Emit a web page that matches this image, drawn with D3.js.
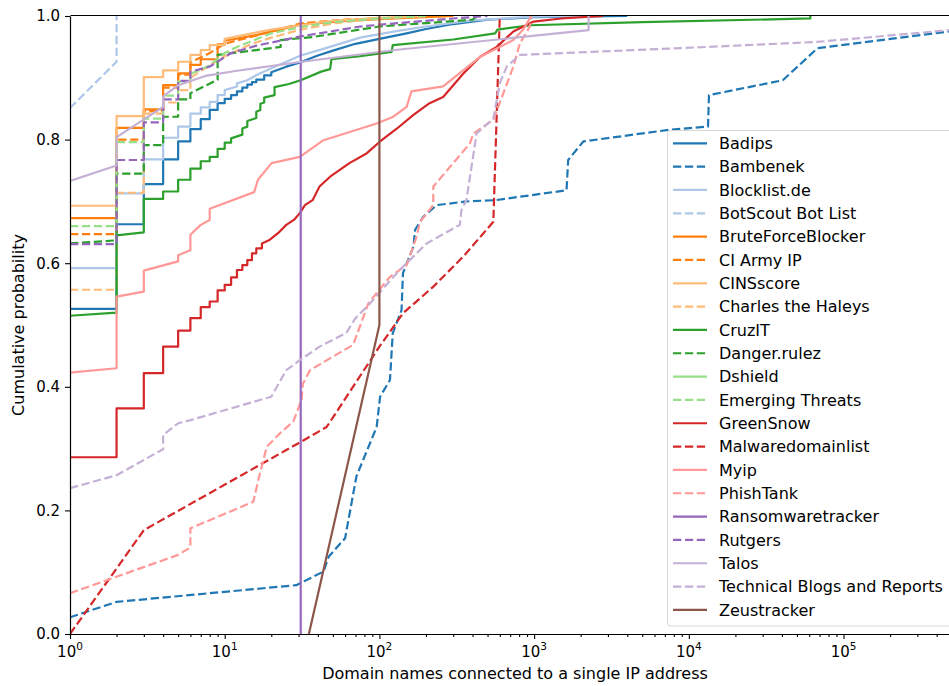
<!DOCTYPE html>
<html>
<head>
<meta charset="utf-8">
<script src="https://cdn.jsdelivr.net/npm/d3@7"></script>
<style>
  body { margin: 0; background: #fff; }
  svg { display: block; }
  text { font-family: "DejaVu Sans", sans-serif; fill: #000; }
</style>
</head>
<body>
<svg id="chart" width="949" height="686"></svg>
<script>
// Feed names, in plotting / legend order
const feedNames = ["Badips", "Bambenek", "Blocklist.de", "BotScout Bot List", "BruteForceBlocker",
  "CI Army IP", "CINSscore", "Charles the Haleys", "CruzIT", "Danger.rulez", "Dshield",
  "Emerging Threats", "GreenSnow", "Malwaredomainlist", "Myip", "PhishTank",
  "Ransomwaretracker", "Rutgers", "Talos", "Technical Blogs and Reports", "Zeustracker"];

const feedColors = ["#1f77b4", "#1f77b4", "#aec7e8", "#aec7e8", "#ff7f0e", "#ff7f0e", "#ffbb78",
  "#ffbb78", "#2ca02c", "#2ca02c", "#98df8a", "#98df8a", "#d62728", "#d62728", "#ff9896",
  "#ff9896", "#9467bd", "#9467bd", "#c5b0d5", "#c5b0d5", "#8c564b"];

const feedDashed = [false, true, false, true, false, true, false, true, false, true, false,
  true, false, true, false, true, false, true, false, true, false];

// CDF vertices per feed: [domain names per IP, cumulative probability]
const badips = [[1,.526],[2,.526],[2,.663],[3,.663],[3,.728],[4,.728],[4,.768],[5,.768],[5,.797],[6,.797],[6,.817],[7,.817],[7,.833],[8,.833],[8,.848],[9,.848],[9,.859],[10,.859],[10,.866],[11,.866],[11,.872],[12,.872],[12,.878],[13,.878],[13,.884],[14,.884],[14,.889],[15,.889],[15,.893],[16,.893],[16,.897],[18,.897],[18,.904],[20,.904],[20,.909],[25,.918],[30,.924],[40,.936],[50,.944],[70,.955],[100,.963],[150,.972],[200,.979],[300,.987],[500,.994],[1000,.998],[4000,1]];
const bambenek = [[1,.027],[2,.052],[29,.079],[43.5,.101],[47,.125],[60,.155],[71,.255],[96,.335],[101,.384],[117,.411],[122,.487],[139,.524],[142,.584],[166,.627],[170,.654],[192,.675],[235,.694],[365,.700],[561,.702],[1620,.718],[1660,.767],[2080,.797],[7500,.816],[13300,.821],[13500,.872],[40500,.896],[68000,.948],[480000,.975]];
const blocklistDe = [[1,.592],[2,.592],[2,.713],[3,.713],[3,.768],[4,.768],[4,.803],[5,.803],[5,.821],[6,.821],[6,.842],[7,.842],[7,.852],[8,.852],[8,.861],[9,.861],[9,.872],[10,.872],[10,.880],[12,.886],[12,.891],[14,.896],[16,.904],[18,.910],[22,.920],[31,.936],[45,.948],[75,.965],[126,.975],[200,.983],[400,.993],[1000,.999],[2000,1]];
const botScout = [[1,.851],[2,.926],[2,1]];
const bruteForce = [[1,.673],[2,.673],[2,.819],[3,.819],[3,.849],[4,.849],[4,.888],[5,.888],[5,.907],[6,.907],[6,.921],[7,.921],[7,.930],[9,.930],[9,.954],[10,.954],[10,.960],[16,.969],[31,.986],[60,.992],[126,.996],[300,1]];
const ciArmy = [[1,.647],[2,.647],[2,.800],[3,.800],[3,.846],[4,.846],[4,.884],[5,.884],[5,.905],[6,.905],[6,.925],[8,.94],[10,.955],[20,.975],[31,.988],[60,.994],[150,.998],[300,1]];
const cinsScore = [[1,.693],[2,.693],[2,.838],[3,.838],[3,.901],[4,.901],[4,.912],[5,.912],[5,.926],[6,.926],[6,.937],[7,.937],[7,.945],[8,.945],[8,.953],[10,.953],[10,.963],[15,.972],[20,.978],[31,.985],[50,.992],[100,.997],[200,1]];
const charlesHaleys = [[1,.557],[2,.557],[2,.714],[3,.714],[3,.842],[4,.842],[4,.860],[5,.860],[5,.880],[6,.880],[6,.90],[8,.92],[10,.935],[15,.955],[20,.965],[31,.978],[50,.988],[100,.996],[200,1]];
const cruzIT = [[1,.515],[2,.520],[2,.645],[3,.650],[3,.704],[4,.704],[4,.716],[5,.716],[5,.735],[6,.735],[6,.753],[7,.753],[7,.765],[8,.765],[8,.772],[9,.772],[9,.785],[10,.785],[10,.795],[11,.795],[11,.802],[13,.808],[13,.818],[14,.821],[14,.830],[16,.835],[16,.845],[17,.848],[17,.858],[18,.860],[18,.868],[21,.872],[21,.885],[26,.890],[31,.896],[42,.910],[48,.914],[49,.930],[75,.935],[120,.942],[122,.953],[300,.962],[560,.972],[580,.978],[950,.985],[5000,.990],[61000,.996],[61000,1]];
const dangerRulez = [[1,.632],[2,.637],[2,.745],[3,.745],[3,.791],[4,.791],[4,.837],[5,.837],[5,.865],[6,.865],[6,.875],[9,.897],[9,.937],[23,.950],[23,.961],[37,.966],[100,.983],[400,.994],[430,1]];
const dshield = [[1,.995],[1,1]];
const emergingThreats = [[1,.660],[2,.660],[2,.796],[3,.796],[3,.834],[4,.834],[4,.871],[5,.871],[5,.894],[6,.894],[6,.906],[8,.92],[9,.931],[10,.94],[12,.95],[20,.972],[31,.982],[50,.99],[100,.996],[200,1]];
const greenSnow = [[1,.286],[2,.286],[2,.365],[3,.365],[3,.422],[4,.422],[4,.465],[5,.465],[5,.491],[6,.491],[6,.511],[7,.511],[7,.529],[8,.529],[8,.538],[9,.538],[9,.556],[10,.556],[10,.565],[11,.565],[11,.577],[12,.577],[12,.589],[13,.589],[13,.597],[14,.597],[14,.605],[15,.605],[15,.616],[16,.616],[16,.624],[17.4,.624],[17.4,.632],[19.6,.638],[22.2,.649],[25,.662],[28,.670],[30.6,.681],[33,.694],[37,.702],[41,.724],[48,.740],[64,.762],[83,.778],[101,.797],[130,.818],[166,.840],[211,.859],[258,.869],[349,.907],[448,.934],[573,.950],[734,.975],[991,.991],[1500,.996],[2800,1]];
const malwareDomainList = [[1,0],[3,.168],[30.6,.310],[45.6,.335],[100,.465],[142,.519],[223,.562],[349,.611],[545,.667],[600,1]];
const myip = [[1,.423],[2,.430],[2,.546],[3,.554],[3,.588],[5,.603],[5,.613],[6,.621],[6,.646],[7,.662],[8,.670],[8,.688],[15.5,.715],[16.4,.735],[20.1,.762],[30.6,.772],[43.5,.799],[96,.826],[123,.837],[150,.853],[161,.878],[258,.886],[448,.934],[734,.961],[850,.978],[960,1]];
const phishTank = [[1,.066],[5,.128],[6,.140],[6,.171],[15.3,.214],[16.9,.260],[18.7,.303],[22.8,.325],[27.8,.344],[31.4,.379],[32,.405],[35.6,.427],[67.7,.468],[84.8,.535],[117,.578],[150,.597],[174,.643],[183,.667],[223,.694],[223,.724],[385,.794],[405,.810],[545,.832],[734,.918],[810,.956],[940,.983],[950,1]];
const ransomwareTracker = [[31,0],[31,1]];
const rutgers = [[1,.631],[2,.631],[2,.767],[3,.767],[3,.828],[4,.828],[4,.865],[5,.865],[5,.895],[6,.895],[6,.910],[8,.918],[9,.926],[11,.94],[16,.952],[31,.967],[75,.983],[126,.988],[300,.996],[500,1]];
const talos = [[1,.733],[2,.758],[2,.804],[4,.853],[4,.870],[5,.888],[7.5,.903],[11.7,.911],[31.5,.926],[126,.945],[2250,.977],[2250,1]];
const technicalBlogs = [[1,.236],[2,.257],[4,.299],[4,.322],[5,.341],[6,.346],[20,.384],[23,.411],[25,.427],[30.6,.443],[41,.465],[61,.487],[70,.511],[87,.535],[135,.589],[202,.632],[331,.662],[339,.686],[365,.702],[425,.810],[545,.834],[600,.891],[665,.918],[810,.937],[8800,.948],[67000,.958],[480000,.977]];
const zeusTracker = [[35,0],[100,.5],[100,1]];

const feedPoints = [badips, bambenek, blocklistDe, botScout, bruteForce, ciArmy, cinsScore,
  charlesHaleys, cruzIT, dangerRulez, dshield, emergingThreats, greenSnow, malwareDomainList,
  myip, phishTank, ransomwareTracker, rutgers, talos, technicalBlogs, zeusTracker];

// Axis ticks
const xMajorTicks = [1, 10, 100, 1000, 10000, 100000];
const xMajorExponents = ["0", "1", "2", "3", "4", "5"];
const yTicks = [0, 0.2, 0.4, 0.6, 0.8, 1.0];
const yTickLabels = ["0.0", "0.2", "0.4", "0.6", "0.8", "1.0"];

(function drawChart() {
  const svg = d3.select("#chart");
  const plotLeft = 70, plotRight = 960, plotTop = 16, plotBottom = 634;

  const x = d3.scaleLog().domain([1, 5.66e5]).range([plotLeft, plotRight]);
  const y = d3.scaleLinear().domain([0, 1]).range([plotBottom, plotTop]);

  svg.append("defs").append("clipPath").attr("id", "plotArea")
    .append("rect").attr("x", plotLeft).attr("y", plotTop)
    .attr("width", plotRight - plotLeft).attr("height", plotBottom - plotTop);

  // CDF curves
  const line = d3.line().x(d => x(d[0])).y(d => y(d[1]));
  const plot = svg.append("g").attr("clip-path", "url(#plotArea)");
  feedPoints.forEach((pts, i) => {
    plot.append("path")
      .attr("d", line(pts))
      .attr("fill", "none")
      .attr("stroke", feedColors[i])
      .attr("stroke-width", 2.2)
      .attr("stroke-linejoin", "round")
      .attr("stroke-dasharray", feedDashed[i] ? "8.3,3.6" : null);
  });

  // X axis: major ticks, minor ticks, power-of-ten labels
  const xAxisG = svg.append("g").attr("transform", `translate(0,${plotBottom})`);
  xAxisG.call(d3.axisBottom(x).tickValues(xMajorTicks).tickSize(5).tickSizeOuter(0).tickFormat(() => ""));
  const minorTicks = x.ticks().filter(v => !xMajorTicks.includes(v));
  const xMinorG = svg.append("g").attr("transform", `translate(0,${plotBottom})`);
  xMinorG.call(d3.axisBottom(x).tickValues(minorTicks).tickSize(3).tickSizeOuter(0).tickFormat(() => ""));
  xMinorG.select(".domain").remove();
  [xAxisG, xMinorG].forEach(g => {
    g.selectAll("text").remove();
    g.selectAll("line").attr("stroke", "#000").attr("stroke-width", 1.1);
  });
  xAxisG.select(".domain").attr("stroke", "#000").attr("stroke-width", 1.2);
  xMajorTicks.forEach((v, i) => {
    const t = xAxisG.append("text")
      .attr("x", x(v)).attr("y", 23)
      .attr("text-anchor", "middle")
      .style("font-size", "15px");
    t.append("tspan").text("10");
    t.append("tspan").attr("dy", -7).style("font-size", "10.5px").text(xMajorExponents[i]);
  });

  // Y axis
  const yAxisG = svg.append("g").attr("transform", `translate(${plotLeft},0)`);
  yAxisG.call(d3.axisLeft(y).tickValues(yTicks).tickSize(5).tickPadding(5).tickSizeOuter(0)
    .tickFormat((d, i) => yTickLabels[i]));
  yAxisG.selectAll("text").style("font-size", "15px").style("font-family", "DejaVu Sans, sans-serif").attr("fill", "#000");
  yAxisG.selectAll("line").attr("stroke", "#000").attr("stroke-width", 1.1);
  yAxisG.select(".domain").attr("stroke", "#000").attr("stroke-width", 1.2);

  // Top spine
  svg.append("line").attr("x1", plotLeft + 0.5).attr("x2", plotRight)
    .attr("y1", plotTop - 0.5).attr("y2", plotTop - 0.5)
    .attr("stroke", "#000").attr("stroke-width", 1.2);

  // Axis titles
  svg.append("text")
    .attr("x", (plotLeft + plotRight) / 2).attr("y", 679)
    .attr("text-anchor", "middle").style("font-size", "16px")
    .text("Domain names connected to a single IP address");
  svg.append("text")
    .attr("transform", `translate(24,${(plotTop + plotBottom) / 2}) rotate(-90)`)
    .attr("text-anchor", "middle").style("font-size", "16px")
    .text("Cumulative probability");

  // Legend
  const legend = svg.append("g");
  legend.append("rect")
    .attr("x", 667.5).attr("y", 130.5).attr("width", 300).attr("height", 495.5).attr("rx", 3)
    .attr("fill", "#fff").attr("fill-opacity", 0.8)
    .attr("stroke", "#cccccc").attr("stroke-opacity", 0.8);
  feedNames.forEach((name, i) => {
    const cy = 143.3 + i * 23.33;
    legend.append("line")
      .attr("x1", 673).attr("x2", 707).attr("y1", cy).attr("y2", cy)
      .attr("stroke", feedColors[i]).attr("stroke-width", 2.2)
      .attr("stroke-dasharray", feedDashed[i] ? "8.3,3.6" : null);
    legend.append("text")
      .attr("x", 719).attr("y", cy + 5.6)
      .style("font-size", "16px")
      .text(name);
  });
})();
</script>
</body>
</html>
